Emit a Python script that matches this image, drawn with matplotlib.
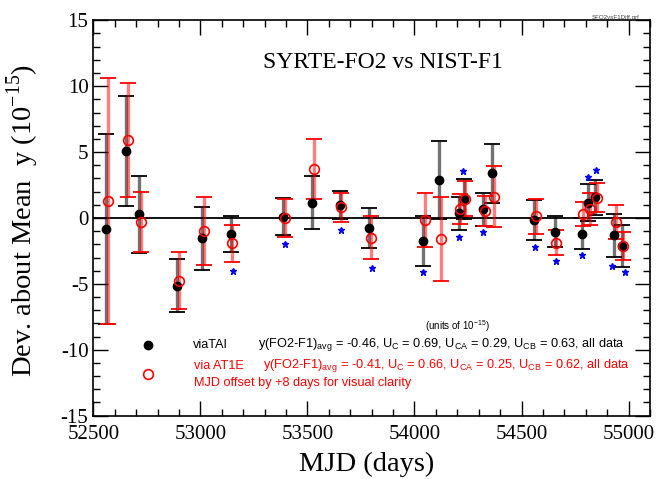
import matplotlib
matplotlib.use("Agg")
import matplotlib.pyplot as plt
from matplotlib.ticker import MultipleLocator

# viaTAI points (MJD, deviation, error bar half-length), units of 1e-15
mjd = [52559, 52654, 52713, 52893, 53010, 53142, 53385, 53521, 53650, 53789,
       54040, 54116, 54206, 54229, 54319, 54363, 54560, 54655, 54781, 54811,
       54843, 54931, 54967]
tai = [-0.83, 5.08, 0.28, -5.14, -1.54, -1.24, 0.08, 1.16, 0.96, -0.74,
       -1.75, 2.88, 0.36, 1.44, 0.66, 3.39, -0.15, -1.04, -1.21, 1.16,
       1.59, -1.31, -2.12]
tai_err = [7.2, 4.2, 2.92, 2.01, 2.38, 1.36, 1.4, 2.03, 1.07, 1.53,
           1.9, 2.95, 1.24, 1.49, 1.25, 2.23, 1.55, 1.17, 1.18, 1.42,
           1.33, 1.65, 1.57]

# via AT1E points, drawn 8 days later
at1e = [1.29, 5.92, -0.28, -4.76, -0.96, -1.92, -0.02, 3.72, 0.83, -1.49,
        -0.17, -1.57, 0.68, 1.46, 0.53, 1.62, 0.13, -1.87, 0.33, 0.68,
        1.52, -0.3, -2.12]
at1e_err = [9.37, 4.34, 2.29, 2.15, 2.58, 1.4, 1.44, 2.27, 1.1, 1.64,
            2.06, 3.2, 1.14, 1.33, 1.16, 2.31, 1.34, 0.94, 0.9, 1.2,
            1.1, 1.32, 1.09]
mjd_offset = 8

# blue star markers
star_mjd = [53152, 53393, 53659, 53800, 54040, 54210, 54227, 54319, 54563,
            54661, 54783, 54810, 54849, 54922, 54984]
star_y = [-4.02, -1.95, -0.93, -3.82, -4.12, -1.42, 3.54, -1.09, -2.22,
          -3.24, -2.83, 3.13, 3.62, -3.66, -4.12]

serif = "Liberation Serif"
sans = "Liberation Sans"
plt.rcParams['font.family'] = [serif, 'DejaVu Serif']
plt.rcParams['axes.unicode_minus'] = False

fig = plt.figure(figsize=(6.56, 4.79), dpi=100)
ax = fig.add_axes([0.1422, 0.1322, 0.8487, 0.8254])

ax.axhline(0, color='black', lw=1.3, zorder=1)


def draw_bars(x, y, err, color, alpha):
    line, caps, bars = ax.errorbar(x, y, yerr=err, fmt='none', ecolor=color,
                                   elinewidth=2.4, capsize=5.5, capthick=1.3,
                                   zorder=2)
    for b in bars:
        b.set_alpha(alpha)


at1e_x = [m + mjd_offset for m in mjd]
draw_bars(mjd, tai, tai_err, 'black', 0.55)
draw_bars(at1e_x, at1e, at1e_err, 'red', 0.5)
ax.plot(mjd, tai, 'o', color='black', ms=6, zorder=3)
ax.plot(at1e_x, at1e, 'o', mfc='none', mec='red', ms=7, mew=1.2, zorder=4)
ax.plot(star_mjd, star_y, '*', color='blue', ms=4.5, zorder=3)

ax.set_xlim(52500, 55100)
ax.set_ylim(-15, 15)
ax.xaxis.set_major_locator(MultipleLocator(500))
ax.xaxis.set_minor_locator(MultipleLocator(100))
ax.yaxis.set_major_locator(MultipleLocator(5))
ax.yaxis.set_minor_locator(MultipleLocator(1))
ax.tick_params(which='both', direction='in', top=True, right=True, width=1.0)
ax.tick_params(which='major', length=10.5, labelsize=15)
ax.tick_params(axis='x', which='major', pad=7)
ax.tick_params(which='minor', length=5)
for s in ax.spines.values():
    s.set_linewidth(1.2)

ax.set_xlabel("MJD (days)", fontsize=20.5)
ax.xaxis.set_label_coords(0.491, -0.0905)
ax.set_ylabel(r"Dev. about Mean  y (10$^{\mathregular{-15}}$)", fontsize=20.5)
ax.yaxis.set_label_coords(-0.094, 0.495)

ax.text(0.5195, 0.8928, "SYRTE-FO2 vs NIST-F1", transform=ax.transAxes,
        ha='center', va='center', fontsize=17)

# legend block
ax.text(0.5958, 0.2276, r"(units of 10$^{\mathregular{-15}}$)", transform=ax.transAxes,
        ha='left', va='center', fontsize=7, family=sans)
ax.plot([0.0988], [0.1788], 'o', color='black', ms=6, transform=ax.transAxes)
ax.plot([0.0988], [0.1047], 'o', mfc='none', mec='red', ms=7, mew=1.2,
        transform=ax.transAxes)
ax.text(0.1796, 0.1788, "viaTAI", transform=ax.transAxes, ha='left', va='center',
        fontsize=9.15, family=sans)
ax.text(0.2953, 0.1788,
        r"y(FO2-F1)$_{\mathregular{avg}}$ = -0.46, U$_{\mathregular{C}}$ = 0.69, "
        r"U$_{\mathregular{CA}}$ = 0.29, U$_{\mathregular{CB}}$ = 0.63, all data",
        transform=ax.transAxes, ha='left', va='center', fontsize=9.15, family=sans)
ax.text(0.1814, 0.1257, "via AT1E", transform=ax.transAxes, ha='left', va='center',
        fontsize=9.15, family=sans, color='red')
ax.text(0.3048, 0.1257,
        r"y(FO2-F1)$_{\mathregular{avg}}$ = -0.41, U$_{\mathregular{C}}$ = 0.66, "
        r"U$_{\mathregular{CA}}$ = 0.25, U$_{\mathregular{CB}}$ = 0.62, all data",
        transform=ax.transAxes, ha='left', va='center', fontsize=9.15, family=sans,
        color='red')
ax.text(0.1814, 0.0819, "MJD offset by +8 days for visual clarity",
        transform=ax.transAxes, ha='left', va='center', fontsize=9.15, family=sans,
        color='red')

fig.text(0.939, 0.9645, "SFO2vsF1Diff.grf", ha='center', va='center',
         fontsize=4.5, family=sans, color='#444444')

fig.savefig("out.png", dpi=100)
